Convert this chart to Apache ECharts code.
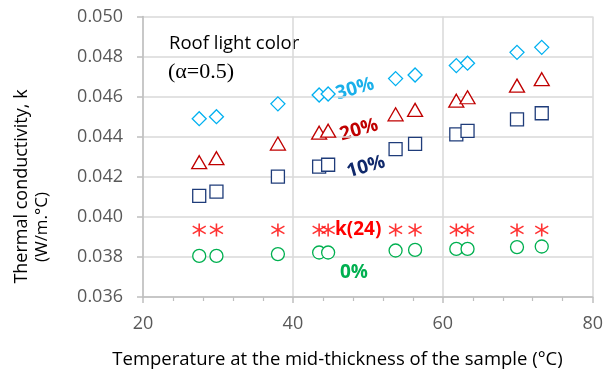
<!DOCTYPE html>
<html>
<head>
<meta charset="utf-8">
<script src="https://cdn.jsdelivr.net/npm/echarts@6/dist/echarts.min.js"></script>
<style>
html,body{margin:0;padding:0;background:#fff;}
#chart{width:606px;height:374px;}
</style>
</head>
<body>
<div id="chart"></div>
<script>
// Temperatures at mid-thickness (°C)
var temps = [27.5, 29.8, 38.0, 43.5, 44.7, 53.7, 56.3, 61.8, 63.3, 69.9, 73.2];
// Thermal conductivity values (W/m.°C)
var k30 = [0.04490, 0.04500, 0.04564, 0.04608, 0.04613, 0.04690, 0.04708, 0.04755, 0.04767, 0.04821, 0.04846];
var k20 = [0.04273, 0.04293, 0.04366, 0.04420, 0.04430, 0.04512, 0.04534, 0.04580, 0.04597, 0.04655, 0.04687];
var k10 = [0.04105, 0.04126, 0.04201, 0.04251, 0.04260, 0.04338, 0.04364, 0.04412, 0.04429, 0.04487, 0.04517];
var k24 = [0.03935, 0.03935, 0.03935, 0.03935, 0.03935, 0.03935, 0.03935, 0.03935, 0.03935, 0.03935, 0.03935];
var k0  = [0.03805, 0.03805, 0.03814, 0.03822, 0.03822, 0.03832, 0.03835, 0.03840, 0.03840, 0.03849, 0.03852];
var xTicks = [20, 40, 60, 80];
var yTicks = [0.036, 0.038, 0.040, 0.042, 0.044, 0.046, 0.048, 0.050];

function pairs(ys){ return temps.map(function(t,i){ return [t, ys[i]]; }); }

var FONT = "'Open Sans', sans-serif";
var chart = echarts.init(document.getElementById('chart'), null, {renderer:'canvas'});

function hollow(name, data, symbol, size, color){
  return {
    name: name, type: 'scatter', data: pairs(data), symbol: symbol, symbolSize: size,
    itemStyle: {color: '#ffffff', borderColor: color, borderWidth: 1.3, opacity: 1},
    emphasis: {disabled: true}, animation: false
  };
}

var option = {
  animation: false,
  grid: {left: 143, right: 12.5, top: 16.5, bottom: 77, containLabel: false},
  xAxis: {
    type: 'value', min: xTicks[0], max: xTicks[xTicks.length-1], interval: 20,
    axisLine: {show: true, lineStyle: {color: '#bfbfbf', width: 1.5}},
    axisTick: {show: true, length: 6, lineStyle: {color: '#bfbfbf', width: 1.5}},
    minorTick: {show: true, splitNumber: 5, length: 4, lineStyle: {color: '#bfbfbf', width: 1.2}},
    splitLine: {show: true, lineStyle: {color: '#d9d9d9', width: 1.5}},
    axisLabel: {color: '#595959', fontFamily: FONT, fontSize: 18, margin: 18}
  },
  yAxis: {
    type: 'value', min: yTicks[0], max: yTicks[yTicks.length-1], interval: 0.002,
    axisLine: {show: true, lineStyle: {color: '#bfbfbf', width: 1.5}},
    axisTick: {show: true, length: 6, lineStyle: {color: '#bfbfbf', width: 1.5}},
    splitLine: {show: true, lineStyle: {color: '#d9d9d9', width: 1.5}},
    axisLabel: {color: '#595959', fontFamily: FONT, fontSize: 18, margin: 20,
      formatter: function(v){ return v.toFixed(3); }}
  },
  series: [
    hollow('0%', k0, 'circle', 13, '#00b050'),
    {
      name: 'k(24)', type: 'scatter', data: pairs(k24),
      symbol: 'path://M6,0L6,12M0,2.5L12,9.5M0,9.5L12,2.5', symbolSize: [13, 13],
      itemStyle: {color: 'rgba(0,0,0,0)', borderColor: '#ff0000', borderWidth: 1.6},
      emphasis: {disabled: true}, animation: false
    },
    hollow('10%', k10, 'rect', 13, '#1f3c7a'),
    hollow('20%', k20, 'triangle', [15, 13], '#c00000'),
    hollow('30%', k30, 'diamond', [14, 14], '#00b0f0')
  ],
  graphic: [
    {type: 'text', x: 169, y: 44, style: {text: 'Roof light color', x: 0, y: 0, textAlign: 'left', textVerticalAlign: 'middle', fontFamily: FONT, fontSize: 18.5, fill: '#000'}},
    {type: 'text', x: 168, y: 72, style: {text: '(\u03b1=0.5)', x: 0, y: 0, textAlign: 'left', textVerticalAlign: 'middle', fontFamily: "'Liberation Serif', 'DejaVu Serif', serif", fontSize: 22, fill: '#000'}},
    {type: 'text', x: 355, y: 89, rotation: 0.28, style: {text: '30%', x: 0, y: 0, textAlign: 'center', textVerticalAlign: 'middle', fontFamily: FONT, fontWeight: 'bold', fontSize: 19, fill: '#1ab0ea'}},
    {type: 'text', x: 359, y: 130, rotation: 0.28, style: {text: '20%', x: 0, y: 0, textAlign: 'center', textVerticalAlign: 'middle', fontFamily: FONT, fontWeight: 'bold', fontSize: 19, fill: '#c00000'}},
    {type: 'text', x: 366, y: 167, rotation: 0.28, style: {text: '10%', x: 0, y: 0, textAlign: 'center', textVerticalAlign: 'middle', fontFamily: FONT, fontWeight: 'bold', fontSize: 19, fill: '#10296b'}},
    {type: 'text', x: 335, y: 230, style: {text: 'k(24)', x: 0, y: 0, textAlign: 'left', textVerticalAlign: 'middle', fontFamily: FONT, fontWeight: 'bold', fontSize: 19, fill: '#ff0000'}},
    {type: 'text', x: 354, y: 273, style: {text: '0%', x: 0, y: 0, textAlign: 'center', textVerticalAlign: 'middle', fontFamily: FONT, fontWeight: 'bold', fontSize: 19, fill: '#00b050'}},
    {type: 'text', x: 22, y: 186.5, rotation: Math.PI/2, style: {text: 'Thermal conductivity, k', x: 0, y: 0, textAlign: 'center', textVerticalAlign: 'middle', fontFamily: FONT, fontSize: 18, fill: '#000'}},
    {type: 'text', x: 42, y: 227, rotation: Math.PI/2, style: {text: '(W/m.\u00b0C)', x: 0, y: 0, textAlign: 'center', textVerticalAlign: 'middle', fontFamily: FONT, fontSize: 17, fill: '#000'}},
    {type: 'text', x: 337.5, y: 360, style: {text: 'Temperature at the mid-thickness of the sample (\u00b0C)', x: 0, y: 0, textAlign: 'center', textVerticalAlign: 'middle', fontFamily: FONT, fontSize: 18.5, fill: '#000'}}
  ]
};
chart.setOption(option);
</script>
</body>
</html>
